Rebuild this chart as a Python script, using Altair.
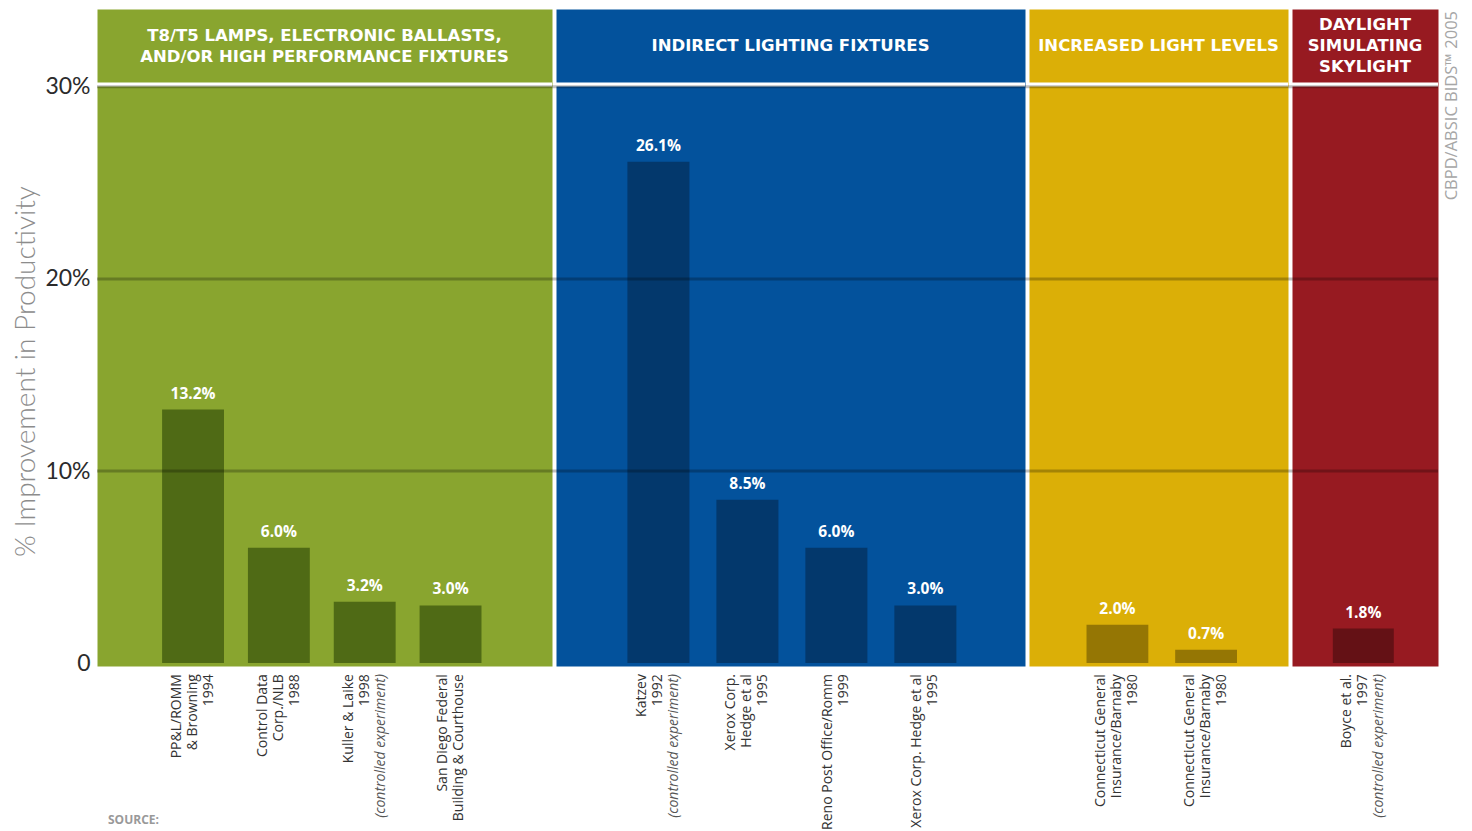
import altair as alt
import pandas as pd

# ---------------- data ----------------
group_titles = [
    "T8/T5 LAMPS, ELECTRONIC BALLASTS,\nAND/OR HIGH PERFORMANCE FIXTURES",
    "INDIRECT LIGHTING FIXTURES",
    "INCREASED LIGHT LEVELS",
    "DAYLIGHT\nSIMULATING\nSKYLIGHT",
]
group_colors = ["#89a52f", "#03529c", "#dbaf07", "#971a21"]
bar_colors = ["#4f6a15", "#03386c", "#957604", "#641115"]

study_labels = [
    "PP&L/ROMM\n& Browning\n1994",
    "Control Data\nCorp./NLB\n1988",
    "Kuller & Laike\n1998",
    "San Diego Federal\nBuilding & Courthouse",
    "Katzev\n1992",
    "Xerox Corp.\nHedge et al\n1995",
    "Reno Post Office/Romm\n1999",
    "Xerox Corp. Hedge et al\n1995",
    "Connecticut General\nInsurance/Barnaby\n1980",
    "Connecticut General\nInsurance/Barnaby\n1980",
    "Boyce et al.\n1997",
]
study_notes = ["", "", "(controlled experiment)", "", "(controlled experiment)",
               "", "", "", "", "", "(controlled experiment)"]
study_group = [0, 0, 0, 0, 1, 1, 1, 1, 2, 2, 3]
improvement = [13.2, 6.0, 3.2, 3.0, 26.1, 8.5, 6.0, 3.0, 2.0, 0.7, 1.8]

y_ticks = [0, 10, 20, 30]
y_tick_labels = ["0", "10%", "20%", "30%"]
y_title = "% Improvement in Productivity"
source_label = "SOURCE:"
credit_label = "CBPD/ABSIC BIDS\u2122 2005"

# ---------------- table ----------------
LH = 16          # line height of the study labels
HLH = 21         # line height of the header texts
rows = []
for i, v in enumerate(improvement):
    n_reg = len(study_labels[i].split("\n"))
    note = study_notes[i]
    n_total = n_reg + (1 if note else 0)
    rows.append({
        "sid": f"s{i:02d}",
        "group": study_group[i],
        "value": v,
        "vlabel": f"{v:.1f}%",
        "label": study_labels[i],
        "note": note,
        "n_reg": n_reg,
        "n_total": n_total,
    })
df = pd.DataFrame(rows)
grid_df = pd.DataFrame({"v": [t for t in y_ticks if t > 0]})

label_expr = ("[" + ",".join(f"'{l}'" for l in y_tick_labels) + "]"
              "[indexof([" + ",".join(str(t) for t in y_ticks) + "], datum.value)]")

yscale = alt.Scale(domain=[-0.15, 34.05], nice=False, zero=False)

SPACING = 4
panel_specs = [
    # width, paddingInner, paddingOuter, align
    (455, 0.279, 0.79, 0.48),
    (469, 0.303, 0.787, 0.51),
    (259, 0.303, 0.612, 0.53),
    (146, 0.30, 0.488, 0.48),
]

PANEL_H = 657
LABEL_FONT = "Open Sans"


def make_panel(g):
    width, pi, po, al = panel_specs[g]
    d = df[df["group"] == g]
    if g == 0:
        yaxis = alt.Axis(values=y_ticks, labelExpr=label_expr, ticks=False, domain=False,
                         grid=False, labelFontSize=23, labelFont="Lato",
                         labelColor="#2b2b2b", labelPadding=7, title=y_title,
                         titleFontSize=28, titleFont="Lato", titleFontWeight=300,
                         titleColor="#8c8c8c", titlePadding=4, titleY=362)
    else:
        yaxis = None

    def Y(field):
        if yaxis is None:
            return alt.Y(field, type="quantitative", scale=yscale, axis=None)
        return alt.Y(field, type="quantitative", scale=yscale, axis=yaxis)

    X = alt.X("sid:N", sort=None, axis=None,
              scale=alt.Scale(paddingInner=pi, paddingOuter=po, align=al))

    base = alt.Chart(d)
    sep = alt.Chart(pd.DataFrame({"v": [30.12]})).mark_rule(
        color="white", strokeWidth=4).encode(y=Y("v"))
    bars = base.mark_bar(color=bar_colors[g]).encode(x=X, y=Y("value"), y2=alt.datum(0))
    # grid lines also run through the white gap on the left of panels 2..4
    grid = alt.Chart(grid_df).mark_rule(color="black", opacity=0.25, strokeWidth=3).encode(
        y=Y("v"),
        x=alt.value(-SPACING if g > 0 else 0),
        x2=alt.value(width),
    )
    vlabels = base.mark_text(color="white", font=LABEL_FONT, fontWeight=700, fontSize=15.5,
                             baseline="bottom", dy=-8).encode(x=X, y=Y("value"), text="vlabel:N")
    n_head = len(group_titles[g].split("\n"))
    header = alt.Chart(pd.DataFrame({"t": [group_titles[g]], "v": [32.12]})).mark_text(
        color="white", font="DejaVu Sans", fontWeight="bold", fontSize=16.5, lineBreak="\n",
        lineHeight=HLH, baseline="middle", dy=-(n_head - 1) / 2 * HLH).encode(
        y=Y("v"), text="t:N")

    layers = [sep, bars, grid, vlabels, header]

    # study labels below the panel, rotated; each block centred on its bar
    for nt in sorted(d["n_total"].unique()):
        off = -(nt - 1) / 2 * LH
        layers.append(base.transform_filter(f"datum.n_total == {nt}").mark_text(
            angle=270, align="right", baseline="middle", dx=-11, dy=off,
            lineBreak="\n", lineHeight=LH, fontSize=14, font=LABEL_FONT,
            color="#333333").encode(x=X, y=alt.datum(0), text="label:N"))
        sub = d[(d["n_total"] == nt) & (d["note"] != "")]
        for nr in sorted(sub["n_reg"].unique()):
            layers.append(base.transform_filter(
                f"datum.n_total == {nt} && datum.n_reg == {nr} && datum.note != ''").mark_text(
                angle=270, align="right", baseline="middle", dx=-11, dy=off + nr * LH,
                fontSize=14, font=LABEL_FONT, fontStyle="italic",
                color="#555555").encode(x=X, y=alt.datum(0), text="note:N"))

    if g == 0:
        layers.append(alt.Chart(pd.DataFrame({"t": [source_label]})).mark_text(
            font=LABEL_FONT, fontWeight=700, fontSize=12, color="#999999", align="left",
            baseline="middle").encode(x=alt.value(11), y=alt.value(811), text="t:N"))
    if g == 3:
        layers.append(alt.Chart(pd.DataFrame({"t": [credit_label]})).mark_text(
            font=LABEL_FONT, fontSize=16.5, color="#a6a6a6", angle=270, align="right",
            baseline="middle").encode(x=alt.value(width + 14), y=alt.value(2), text="t:N"))

    return alt.layer(*layers).properties(
        width=width, height=PANEL_H,
        view=alt.ViewBackground(fill=group_colors[g], stroke="transparent"))


panels = [make_panel(g) for g in range(4)]

chart = alt.hconcat(*panels, spacing=SPACING, bounds="flush").resolve_scale(
    x="independent", y="independent"
).properties(
    padding={"left": 4, "top": 0, "right": 0, "bottom": 0}
).configure_view(stroke="transparent")

chart.save("out.html", embed_options={"renderer": "svg", "actions": False})
